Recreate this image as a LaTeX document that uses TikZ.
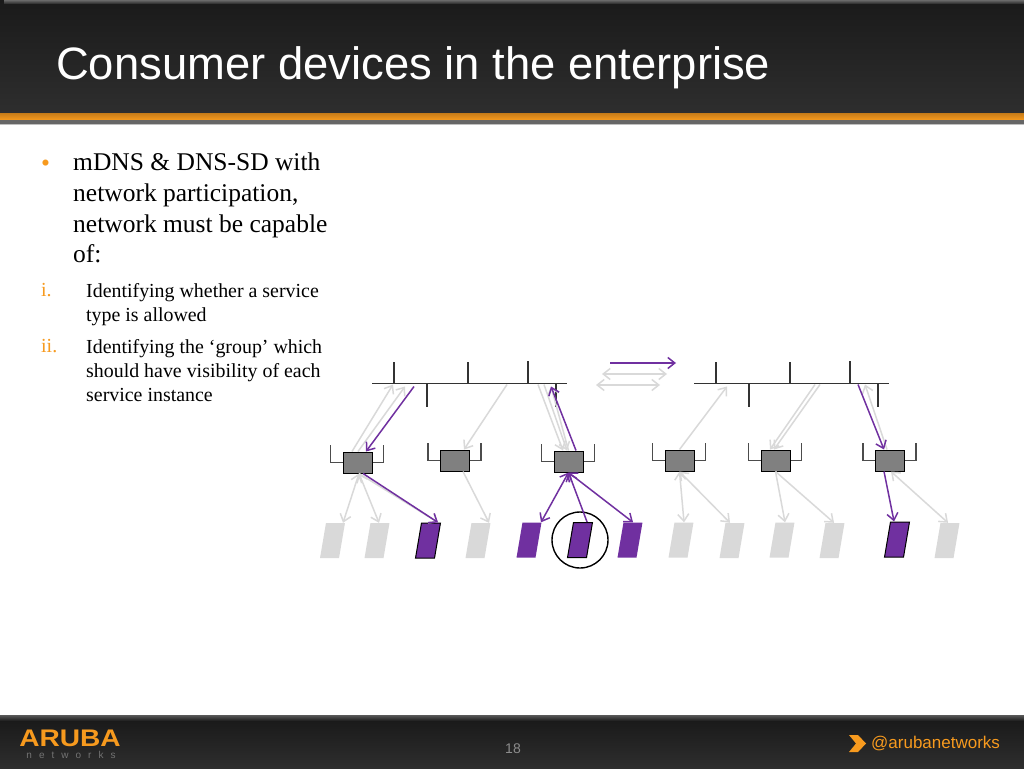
\documentclass[tikz,border=0pt]{standalone}
\usepackage{graphicx}
\usepackage{fontspec}
\setmainfont{Liberation Serif}
\newfontfamily\arialfont{Liberation Sans}
\newfontfamily\logofont[LetterSpace=70]{Liberation Sans}
\usetikzlibrary{arrows.meta}

\definecolor{purpleflow}{HTML}{7030A0}
\definecolor{grayflow}{HTML}{D9D9D9}
\definecolor{arubaorange}{HTML}{F79A1E}
\definecolor{bardark}{HTML}{1A1A1A}
\definecolor{barmid}{HTML}{2E2E2E}

\begin{document}
\begin{tikzpicture}[x=1pt, y=-1pt,
		busline/.style={rectangle, fill=black!80, inner sep=0pt, minimum width=195pt, minimum height=1.6pt},
		stub/.style={line width=1.4pt, black!80},
		apbox/.style={rectangle, draw=black, line width=1pt, fill=black!50, inner sep=0pt, minimum width=29pt, minimum height=21pt},
		antenna/.style={line width=1.4pt, black!70},
		device/.style={rectangle, xslant=0.17, transform shape, inner sep=0pt, minimum width=19pt, minimum height=35pt},
		idle/.style={device, fill=grayflow},
		active/.style={device, fill=purpleflow},
		marked/.style={device, fill=purpleflow, draw=black, line width=1pt},
		gflow/.style={grayflow, line width=1.5pt, -{Straight Barb[length=7pt,width=11pt]}},
		gboth/.style={grayflow, line width=1.5pt, {Straight Barb[length=7pt,width=11pt]}-{Straight Barb[length=7pt,width=11pt]}},
		pflow/.style={purpleflow, line width=1.5pt, -{Straight Barb[length=7pt,width=11pt]}},
		pboth/.style={purpleflow, line width=1.5pt, {Straight Barb[length=7pt,width=11pt]}-{Straight Barb[length=7pt,width=11pt]}},
		bigtext/.style={anchor=north west, align=left, inner sep=0pt, font=\fontsize{25.5}{30.7}\selectfont},
		smalltext/.style={anchor=north west, align=left, inner sep=0pt, font=\fontsize{19.9}{24}\selectfont},
		]
	\useasboundingbox (0,0) rectangle (1024,768);

	% Bars
	\fill[white] (0,0) rectangle (1024,768);
	\shade[top color=bardark, bottom color=barmid] (0,0) rectangle (1024,113);
	\shade[top color=black!65, bottom color=black!85] (4,1) rectangle (1024,4);
	\shade[top color=arubaorange!80!black, bottom color=arubaorange] (0,113) rectangle (1024,120);
	\fill[black!60] (0,120) rectangle (1024,124);
	\fill[black!25] (0,124) rectangle (1024,125);
	\shade[top color=bardark, bottom color=barmid] (0,720) rectangle (1024,768);
	\shade[top color=black!65, bottom color=bardark] (0,715) rectangle (1024,721);

	% Title and footer
	\node[anchor=base west, inner sep=0pt, white, font=\arialfont\fontsize{45.4}{45.4}\selectfont] (title) at (56,79.5) {Consumer devices in the enterprise};
	\node[anchor=base, inner sep=0pt, arubaorange, font=\arialfont\bfseries\fontsize{24}{24}\selectfont] (logo) at (70,746) {\scalebox{1.17}[1]{ARUBA}};
	\node[anchor=base, inner sep=0pt, black!55, font=\logofont\fontsize{10}{10}\selectfont] (logosub) at (71,758.5) {networks};
	\node[anchor=base, inner sep=0pt, black!45, font=\arialfont\fontsize{14}{14}\selectfont] (pagenum) at (513,753) {18};
	\node[anchor=base west, inner sep=0pt, arubaorange, font=\arialfont\fontsize{17}{17}\selectfont] (handle) at (871,748) {@arubanetworks};
	\fill[arubaorange] (849,735) -- (858,735) -- (866,743.5) -- (858,752) -- (849,752) -- (856,743.5) -- cycle;

	% Text
	\node[bigtext, text=arubaorange] (dot) at (41,160) {\textbullet};
	\node[bigtext] (item) at (73,153) {mDNS \& DNS-SD with\\network participation,\\network must be capable\\of:};
	\node[smalltext, text=arubaorange] (romani) at (41,283) {i.};
	\node[smalltext] (itemi) at (86,283) {Identifying whether a service\\type is allowed};
	\node[smalltext, text=arubaorange] (romanii) at (41,339) {ii.};
	\node[smalltext] (itemii) at (86,339) {Identifying the ‘group’ which\\should have visibility of each\\service instance};

	% Wires
	\node[busline] (bus1) at (469.5,383.5) {};
	\node[busline] (bus2) at (791,383.5) {};
	\draw[stub] ([xshift=-75.5pt]bus1.center) -- ++(0,-22);
	\draw[stub] ([xshift=-1.5pt]bus1.center) -- ++(0,-22);
	\draw[stub] ([xshift=58.5pt]bus1.center) -- ++(0,-23);
	\draw[stub] ([xshift=-42.5pt]bus1.center) -- ++(0,23);
	\draw[stub] ([xshift=86.5pt]bus1.center) -- ++(0,23);
	\draw[stub] ([xshift=-75pt]bus2.center) -- ++(0,-22);
	\draw[stub] ([xshift=-1pt]bus2.center) -- ++(0,-22);
	\draw[stub] ([xshift=59pt]bus2.center) -- ++(0,-23);
	\draw[stub] ([xshift=-42pt]bus2.center) -- ++(0,23);
	\draw[stub] ([xshift=87pt]bus2.center) -- ++(0,23);

	% Access points
	\node[apbox] (ap1) at (357.5,462.5) {};
	\node[apbox] (ap2) at (455,460.5) {};
	\node[apbox] (ap3) at (568.5,461.5) {};
	\node[apbox] (ap4) at (679.5,460.5) {};
	\node[apbox] (ap5) at (775.5,460.5) {};
	\node[apbox] (ap6) at (890,460.5) {};
	\draw[antenna] (ap1.west) -- ++(-12,0) -- ++(0,-18) (ap1.east) -- ++(11,0) -- ++(0,-18);
	\draw[antenna] (ap2.west) -- ++(-12,0) -- ++(0,-18) (ap2.east) -- ++(11,0) -- ++(0,-18);
	\draw[antenna] (ap3.west) -- ++(-12,0) -- ++(0,-18) (ap3.east) -- ++(11,0) -- ++(0,-18);
	\draw[antenna] (ap4.west) -- ++(-12,0) -- ++(0,-18) (ap4.east) -- ++(11,0) -- ++(0,-18);
	\draw[antenna] (ap5.west) -- ++(-12,0) -- ++(0,-18) (ap5.east) -- ++(11,0) -- ++(0,-18);
	\draw[antenna] (ap6.west) -- ++(-12,0) -- ++(0,-18) (ap6.east) -- ++(11,0) -- ++(0,-18);

	% Devices
	\node[idle] (dev1) at (332.5,540.5) {};
	\node[idle] (dev2) at (377,540.5) {};
	\node[marked] (dev3) at (428,540.5) {};
	\node[idle] (dev4) at (478,540.5) {};
	\node[active] (dev5) at (529,540) {};
	\node[marked] (dev6) at (580,540) {};
	\node[active] (dev7) at (630,540) {};
	\node[idle] (dev8) at (681,540) {};
	\node[idle] (dev9) at (732,540.5) {};
	\node[idle] (dev10) at (782,540) {};
	\node[idle] (dev11) at (832,540.5) {};
	\node[marked] (dev12) at (897,539.5) {};
	\node[idle] (dev13) at (947,540.5) {};
	\node[circle, draw=black, line width=1.4pt, inner sep=0pt, minimum size=56pt] (ring) at (580,540) {};

	% Legend
	\coordinate (keya) at (610,363);
	\coordinate (keyb) at (676,363);
	\coordinate (keyc) at (602,374);
	\coordinate (keyd) at (667,374);
	\coordinate (keye) at (596,385);
	\coordinate (keyf) at (660,385);
	\draw[gboth] (keyc) -- (keyd);
	\draw[gboth] (keye) -- (keyf);
	\draw[pflow] (keya) -- (keyb);

	% Grey flows
	\draw[gflow] ([xshift=-5.5pt]ap1.north) -- ([xshift=-76.5pt]bus1.south);
	\draw[gflow] ([xshift=0.5pt]ap1.north) -- ([xshift=-64.5pt,yshift=-2pt]bus1.south);
	\draw[gboth] ([xshift=1.5pt]ap1.south) -- ([xshift=7.5pt]dev1.north);
	\draw[gboth] ([xshift=1.5pt]ap1.south) -- ([xshift=-1pt]dev2.north);
	\draw[gflow] ([xshift=1.5pt]ap1.south) -- ([xshift=7pt]dev3.north);
	\draw[gflow] ([xshift=37.5pt]bus1.south) -- ([xshift=9pt]ap2.north);
	\draw[gflow] ([xshift=8pt]ap2.south) -- ([xshift=8pt]dev4.north);
	\draw[gflow] ([xshift=68.5pt]bus1.south) -- ([xshift=-5.5pt]ap3.north);
	\draw[gflow] ([xshift=74.5pt]bus1.south) -- ([xshift=-1.5pt]ap3.north);
	\draw[gflow] (ap3.north) -- ([xshift=81.5pt,yshift=-2pt]bus1.south);
	\draw[gflow] (ap4.north) -- ([xshift=-64pt,yshift=-2pt]bus2.south);
	\draw[gboth] (ap4.south) -- (dev8.north);
	\draw[gboth] (ap4.south) -- ([xshift=-5pt]dev9.north);
	\draw[gflow] ([xshift=24pt]bus2.south) -- ([xshift=-5.5pt]ap5.north);
	\draw[gflow] ([xshift=29pt]bus2.south) -- ([xshift=-1.5pt]ap5.north);
	\draw[gflow] (ap5.south) -- (dev10.north);
	\draw[gflow] (ap5.south) -- ([xshift=-1pt]dev11.north);
	\draw[gflow] ([xshift=-3pt]ap6.north) -- ([xshift=74pt]bus2.south);
	\draw[gboth] ([xshift=1pt]ap6.south) -- ([xshift=-2pt]dev13.north);

	% Purple flows
	\draw[pflow] ([xshift=-55.5pt,yshift=-2pt]bus1.south) -- ([xshift=8.5pt]ap1.north);
	\draw[pflow] ([xshift=5.5pt]ap1.south) -- ([xshift=7pt]dev3.north);
	\draw[pflow] ([xshift=7.5pt]ap3.north) -- ([xshift=81.5pt,yshift=-2pt]bus1.south);
	\draw[pboth] (ap3.south) -- ([xshift=9pt]dev5.north);
	\draw[pflow] ([xshift=4pt]dev6.north) -- (ap3.south);
	\draw[pboth] (ap3.south) -- (dev7.north);
	\draw[pflow] ([xshift=67pt]bus2.south) -- ([xshift=-6pt]ap6.north);
	\draw[pflow] ([xshift=-6pt]ap6.south) -- ([xshift=-6pt]dev12.north);
\end{tikzpicture}
\end{document}
